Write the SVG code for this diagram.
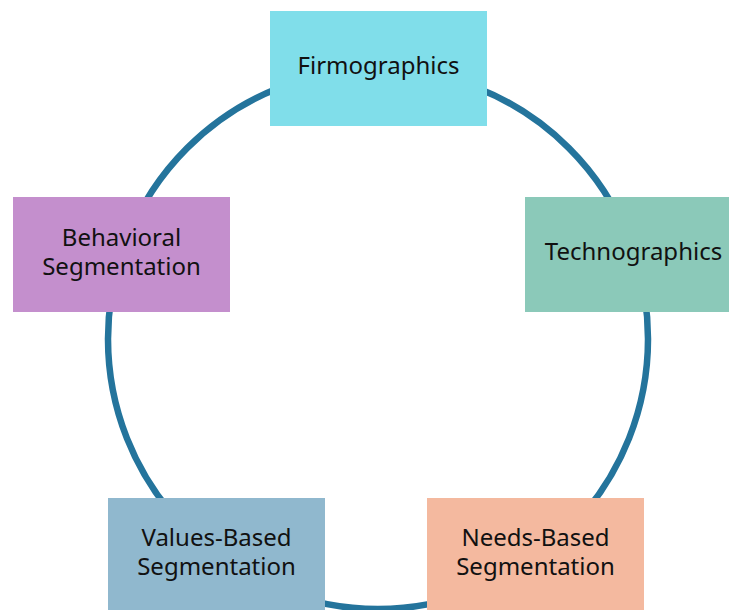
<svg xmlns="http://www.w3.org/2000/svg" width="729" height="610" viewBox="0 0 729 610">
<style>
.lbl{font-family:"Noto Sans","Open Sans","DejaVu Sans",sans-serif;font-size:24px;fill:#111;text-anchor:middle}
</style>
<rect width="729" height="610" fill="#fff"/>
<g id="connectors">
<circle cx="378" cy="339" r="270" fill="none" stroke="#24749C" stroke-width="6.5"/>
</g>
<g id="firmographics">
<rect x="270" y="11" width="217" height="115" fill="#80DEEA"/>
<text class="lbl" x="378.5" y="74">Firmographics</text>
</g>
<g id="technographics">
<rect x="525" y="197" width="217" height="115" fill="#8BC9B9"/>
<text class="lbl" x="633.5" y="260">Technographics</text>
</g>
<g id="behavioral">
<rect x="13" y="197" width="217" height="115" fill="#C48FCD"/>
<text class="lbl" x="121.5" y="246">Behavioral</text>
<text class="lbl" x="121.5" y="275">Segmentation</text>
</g>
<g id="values">
<rect x="108" y="498" width="217" height="115" fill="#90B8CE"/>
<text class="lbl" x="216.5" y="546">Values-Based</text>
<text class="lbl" x="216.5" y="575">Segmentation</text>
</g>
<g id="needs">
<rect x="427" y="498" width="217" height="115" fill="#F4B99F"/>
<text class="lbl" x="535.5" y="546">Needs-Based</text>
<text class="lbl" x="535.5" y="575">Segmentation</text>
</g>
</svg>
